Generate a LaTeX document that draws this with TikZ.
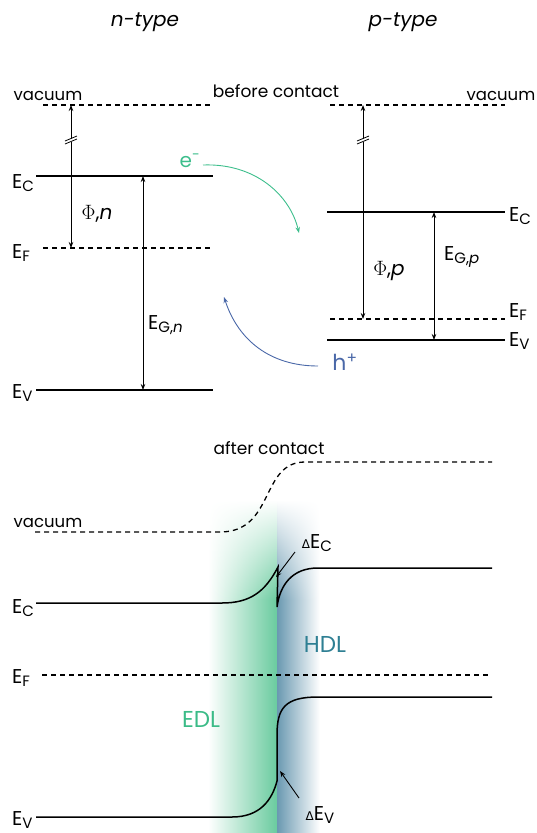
\documentclass[tikz,border=0pt]{standalone}
\usepackage{fontspec}
\setmainfont{Poppins}
\newfontfamily\dvfont{DejaVu Sans}
\usetikzlibrary{arrows.meta,fadings}
\tikzfading[name=fadetop, top color=transparent!100, bottom color=transparent!0]
\definecolor{egreen}{HTML}{3DBE8C}
\definecolor{hblue}{HTML}{4A68A8}
\definecolor{hdltxt}{HTML}{2E7F93}
\definecolor{edltxt}{HTML}{3BBB87}
\definecolor{gshade}{HTML}{6ACB9F}
\definecolor{bshade}{HTML}{6A99B1}
\tikzset{
  lvl/.style={line width=1.5pt},
  dlvl/.style={line width=1.3pt, dash pattern=on 5pt off 4pt},
  dimarr/.style={line width=0.9pt, {Stealth[length=6pt,width=4.5pt]}-{Stealth[length=6pt,width=4.5pt]}},
  lab/.style={inner sep=0pt, anchor=base west, font=\fontsize{20}{20}\selectfont},
  big/.style={inner sep=0pt, font=\fontsize{20}{20}\selectfont},
  head/.style={inner sep=0pt, font=\fontsize{20}{20}\selectfont\itshape},
  small/.style={inner sep=0pt, font=\fontsize{16.5}{16.5}\selectfont},
  mid/.style={inner sep=0pt, font=\fontsize{17}{17}\selectfont},
  carr/.style={line width=0.9pt, -{Stealth[length=6pt,width=4.5pt]}},
  brk/.style={line width=0.8pt},
}
\newcommand{\dsub}[1]{\raisebox{-3.5pt}{\fontsize{15}{15}\selectfont #1}}
\begin{document}
\begin{tikzpicture}[x=1pt,y=-1pt]
\useasboundingbox (0,0) rectangle (537,833);
% depletion shading
\shade[left color=white, right color=gshade] (208,600) rectangle (277,833);
\shade[left color=white, right color=gshade, path fading=fadetop] (208,500) rectangle (277,600);
\shade[left color=bshade, right color=white] (277,600) rectangle (320,833);
\shade[left color=bshade, right color=white, path fading=fadetop] (277,500) rectangle (320,600);

% headings
\node[head] (nt) at (145,22) {n-type};
\node[head] (pt) at (403,22) {p-type};
\node[mid] (bc) at (276,91) {before contact};
\node[small] (vn) at (48,96) {vacuum};
\node[small] (vp) at (501,96) {vacuum};

% n-type levels
\coordinate (nvacL) at (43,105); \coordinate (nvacR) at (213,105);
\coordinate (nECL) at (36,176); \coordinate (nECR) at (213,176);
\coordinate (nEFL) at (43,248); \coordinate (nEFR) at (213,248);
\coordinate (nEVL) at (36,390); \coordinate (nEVR) at (213,390);
\draw[dlvl] (nvacL) -- (nvacR);
\draw[lvl] (nECL) -- (nECR);
\draw[dlvl] (nEFL) -- (nEFR);
\draw[lvl] (nEVL) -- (nEVR);
\node[lab] (nEC) at (12,188) {E\dsub{C}};
\node[lab] (nEF) at (12,258) {E\dsub{F}};
\node[lab] (nEV) at (12,398) {E\dsub{V}};
\coordinate (nPhiT) at (71,105); \coordinate (nPhiB) at (71,248);
\draw[dimarr] (nPhiT) -- (nPhiB);
\coordinate (nEGT) at (143,176); \coordinate (nEGB) at (143,390);
\draw[dimarr] (nEGT) -- (nEGB);
\fill[white] (65,141.5) -- (77,136.5) -- (77,139.5) -- (65,144.5) -- cycle;
\draw[brk] (65,141) -- (77,136);
\draw[brk] (65,144) -- (77,139);
\node[big] (nphi) at (97,214) {$\Phi$,\textit{n}};
\node[big, anchor=west] (nEG) at (148,325) {E\dsub{G,\textit{n}}};

% p-type levels
\coordinate (pvacL) at (330,105); \coordinate (pvacR) at (505,105);
\coordinate (pECL) at (327,212); \coordinate (pECR) at (505,212);
\coordinate (pEFL) at (330,319); \coordinate (pEFR) at (505,319);
\coordinate (pEVL) at (327,340); \coordinate (pEVR) at (505,340);
\draw[dlvl] (pvacL) -- (pvacR);
\draw[lvl] (pECL) -- (pECR);
\draw[dlvl] (pEFL) -- (pEFR);
\draw[lvl] (pEVL) -- (pEVR);
\node[lab] (pEC) at (509,221) {E\dsub{C}};
\node[lab] (pEF) at (509,317) {E\dsub{F}};
\node[lab] (pEV) at (509,346) {E\dsub{V}};
\coordinate (pPhiT) at (363,105); \coordinate (pPhiB) at (363,319);
\draw[dimarr] (pPhiT) -- (pPhiB);
\coordinate (pEGT) at (434,212); \coordinate (pEGB) at (434,340);
\draw[dimarr] (pEGT) -- (pEGB);
\fill[white] (357,141.5) -- (369,136.5) -- (369,139.5) -- (357,144.5) -- cycle;
\draw[brk] (357,141) -- (369,136);
\draw[brk] (357,144) -- (369,139);
\node[big] (pphi) at (389,271) {$\Phi$,\textit{p}};
\node[big, anchor=west] (pEG) at (444,257) {E\dsub{G,\textit{p}}};

% carriers
\node[inner sep=0pt, text=egreen, font=\fontsize{20}{20}\selectfont] (el) at (190,161) {e\textsuperscript{-}};
\coordinate (eS) at (203,165); \coordinate (eE) at (299,233);
\draw[carr, egreen] (eS) .. controls (255,163) and (290,195) .. (eE);
\node[inner sep=0pt, text=hblue, font=\fontsize{22}{22}\selectfont] (ho) at (345,362) {h\textsuperscript{+}};
\coordinate (hS) at (318,366); \coordinate (hE) at (224,297);
\draw[carr, hblue] (hS) .. controls (270,366) and (238,340) .. (hE);

% after contact
\node[mid] (ac) at (269,448) {after contact};
\node[small] (va) at (48,523) {vacuum};
\coordinate (avL) at (35,532); \coordinate (avM) at (220,532); \coordinate (avN) at (305,462); \coordinate (avR) at (492,462);
\draw[dlvl] (avL) -- (avM) .. controls (275,532) and (260,462) .. (avN) -- (avR);
\coordinate (acL) at (36,603); \coordinate (acM) at (222,603); \coordinate (acP) at (278,567);
\coordinate (acQ) at (277,607); \coordinate (acN) at (318,568); \coordinate (acR) at (492,568);
\draw[lvl, line join=miter] (acL) -- (acM) .. controls (250,603) and (265,592) .. (acP) -- (acQ) .. controls (280,585) and (292,568) .. (acN) -- (acR);
\coordinate (afL) at (42,675); \coordinate (afR) at (488,675);
\draw[dlvl] (afL) -- (afR);
\coordinate (avbL) at (36,817); \coordinate (avbM) at (232,817); \coordinate (avbP) at (277,781);
\coordinate (avbQ) at (277,735); \coordinate (avbN) at (318,697); \coordinate (avbR) at (492,697);
\draw[lvl] (avbL) -- (avbM) .. controls (260,817) and (272,800) .. (avbP) -- (avbQ) .. controls (277,708) and (285,697) .. (avbN) -- (avbR);
\node[lab] (aEC) at (12,613) {E\dsub{C}};
\node[lab] (aEF) at (12,683) {E\dsub{F}};
\node[lab] (aEV) at (12,825) {E\dsub{V}};
\node[big] (dEC) at (317,543) {{\dvfont\fontsize{12}{12}\selectfont Δ}E\dsub{C}};
\node[big] (dEV) at (320,815) {{\dvfont\fontsize{12}{12}\selectfont Δ}E\dsub{V}};
\coordinate (dECa) at (295,552); \coordinate (dECb) at (276,577);
\draw[line width=0.9pt, -{Stealth[length=6pt,width=4.5pt]}] (dECa) -- (dECb);
\coordinate (dEVa) at (299,798); \coordinate (dEVb) at (280,771);
\draw[line width=0.9pt, -{Stealth[length=6pt,width=4.5pt]}] (dEVa) -- (dEVb);
\node[inner sep=0pt, text=hdltxt, font=\fontsize{23}{23}\selectfont] (hdl) at (325,644) {HDL};
\node[inner sep=0pt, text=edltxt, font=\fontsize{23}{23}\selectfont] (edl) at (201,719) {EDL};
\end{tikzpicture}
\end{document}
